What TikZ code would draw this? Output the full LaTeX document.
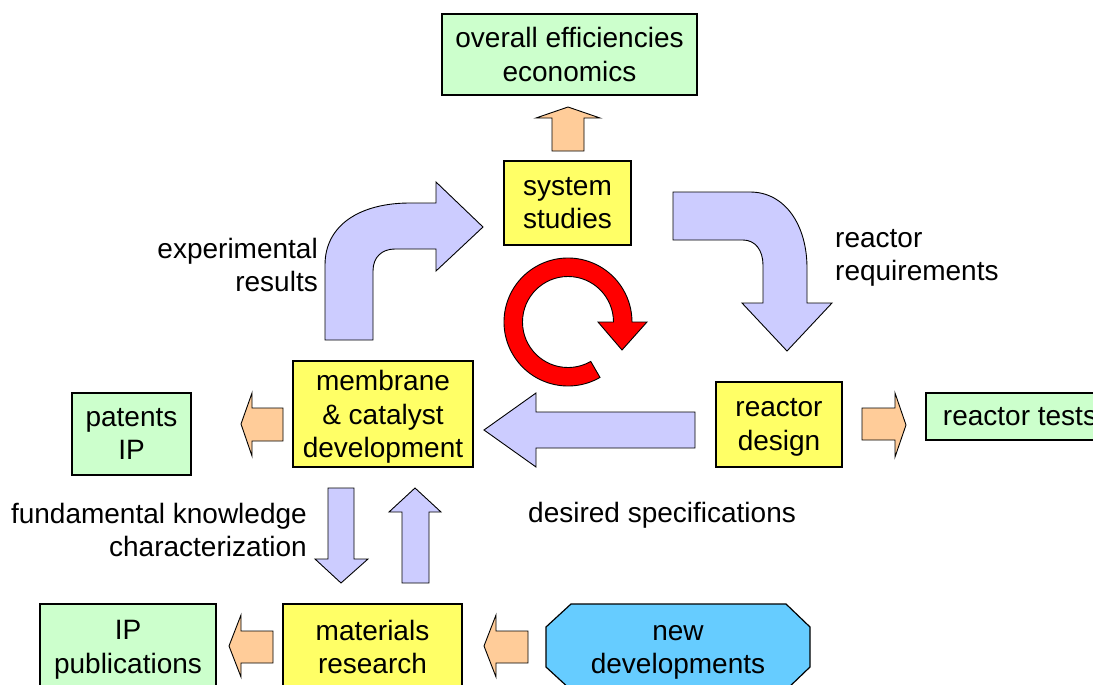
\documentclass[tikz,border=0pt]{standalone}
\usepackage{fontspec}
\setmainfont{Liberation Sans}
\usepackage{tikz}
\definecolor{boxgreen}{HTML}{CCFFCC}
\definecolor{boxyellow}{HTML}{FFFF66}
\definecolor{flowblue}{HTML}{CCCCFF}
\definecolor{outorange}{HTML}{FFCC99}
\definecolor{newblue}{HTML}{66CCFF}

\begin{document}
\begin{tikzpicture}[x=1pt,y=-1pt,
  lbl/.style={inner sep=0pt,font=\fontsize{28}{33.6}\selectfont},
  boxtext/.style={lbl,align=center,text depth=-2pt},
  box/.style={boxtext,draw,rectangle,line width=1.2pt},
  result/.style={box,fill=boxgreen},
  work/.style={box,fill=boxyellow},
  flow/.style={draw,fill=flowblue,line width=0.9pt},
  spill/.style={draw,fill=outorange,line width=0.9pt}]
\useasboundingbox (0,0) rectangle (1093,685);
\clip (0,0) rectangle (1093,685);
\node[result,minimum width=255pt,minimum height=81pt] (over) at (569.5,54.5) {overall efficiencies\\economics};
\node[work,minimum width=127pt,minimum height=84pt] (sys) at (567.5,203) {system\\studies};
\node[work,minimum width=180pt,minimum height=106pt] (memb) at (383,414) {membrane\\\& catalyst\\development};
\node[result,minimum width=119pt,minimum height=82pt] (pat) at (131.5,434) {patents\\IP};
\node[work,minimum width=126pt,minimum height=85pt] (reac) at (779,424.5) {reactor\\design};
\node[result,minimum width=188pt,minimum height=47pt,text height=17pt] (tests) at (1020,416.5) {reactor tests};
\node[work,minimum width=179pt,minimum height=86pt] (mat) at (372.5,647) {materials\\research};
\node[result,minimum width=176pt,minimum height=86pt] (ippub) at (128,647) {IP\\publications};
\filldraw[fill=newblue,line width=1.2pt] (571,604) -- (786,604) -- (810,627) -- (810,667) -- (786,690) -- (571,690) -- (546,667) -- (546,627) -- cycle;
\node[boxtext] (newdev) at (678,649.5) {new\\developments};

\node[lbl,align=right,anchor=east] (exres) at (318,265) {experimental\\results};
\node[lbl,align=left,anchor=west] (reqs) at (835,258) {reactor\\requirements};
\node[lbl,anchor=west] (spec) at (528,515) {desired specifications};
\node[lbl,align=right,anchor=east] (fund) at (307,530) {fundamental knowledge\\characterization};

\filldraw[spill] (552,151) -- (552,118) -- (536,118) -- (568,107) -- (600,118) -- (584,118) -- (584,151) -- cycle;
\filldraw[spill] (283,408) -- (252,408) -- (252,393) -- (241,424) -- (252,456) -- (252,441) -- (283,441) -- cycle;
\filldraw[spill] (862,408) -- (895,408) -- (895,393) -- (906,425) -- (895,457) -- (895,440) -- (862,440) -- cycle;
\filldraw[spill] (273,631) -- (241,631) -- (241,615) -- (229,646) -- (241,677) -- (241,663) -- (273,663) -- cycle;
\filldraw[spill] (528,631) -- (496,631) -- (496,615) -- (484,646) -- (496,677) -- (496,663) -- (528,663) -- cycle;

\filldraw[flow] (695,412) -- (536,412) -- (536,393) -- (484,430) -- (536,467) -- (536,448) -- (695,448) -- cycle;
\filldraw[flow] (328,488) -- (354,488) -- (354,559) -- (368,559) -- (341,583) -- (315,559) -- (328,559) -- cycle;
\filldraw[flow] (402,583) -- (402,512) -- (389,512) -- (415,488) -- (441,512) -- (429,512) -- (429,583) -- cycle;
\filldraw[flow] (325,340) -- (325,265) .. controls (325,225) and (360,203) .. (410,203) -- (436,203) -- (436,182) -- (483,227) -- (436,271) -- (436,249) -- (395,249) .. controls (382,249) and (373,257) .. (373,271) -- (373,340) -- cycle;
\filldraw[flow] (673,192) -- (750,192) .. controls (785,192) and (807,225) .. (807,268) -- (807,303) -- (832,303) -- (787,351) -- (742,303) -- (763,303) -- (763,265) .. controls (763,250) and (755,240) .. (743,240) -- (673,240) -- cycle;

\filldraw[fill=red,line width=0.9pt] (568,322) ++(60:64) arc[start angle=60,end angle=360,radius=64] -- (647,322) -- (622,350) -- (598,322) -- (613.5,322) arc[start angle=360,end angle=60,radius=45.5] -- cycle;
\end{tikzpicture}
\end{document}
